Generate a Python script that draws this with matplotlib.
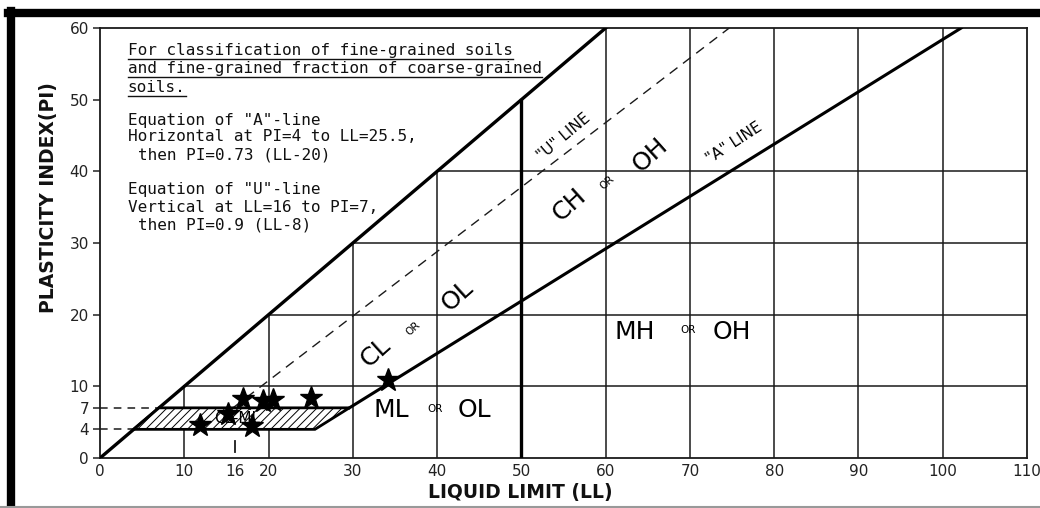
import matplotlib.pyplot as plt
import numpy as np
from matplotlib.lines import Line2D

plt.rcParams['hatch.linewidth'] = 0.7

# 數據：塑性圖上的試樣點 (LL, PI)
sample_ll = [11.9, 15.2, 18.0, 17.0, 19.3, 20.5, 25.0, 34.2]
sample_pi = [4.6, 6.2, 4.4, 8.2, 8.0, 8.1, 8.4, 10.9]

# A-line / U-line 參數
a_slope, a_ll0 = 0.73, 20
a_pi_flat, a_ll_flat_end = 4, 25.5
u_slope, u_ll0 = 0.9, 8
u_ll_vert, u_pi_vert = 16, 7
cl_ml_top = 7

x_ticks = [0, 10, 16, 20, 30, 40, 50, 60, 70, 80, 90, 100, 110]
y_ticks = [0, 4, 7, 10, 20, 30, 40, 50, 60]
grid_steps = [10, 20, 30, 40, 50, 60, 70, 80, 90, 100]

notes = [
    ("For classification of fine-grained soils", 3.3, 56.9, True),
    ("and fine-grained fraction of coarse-grained", 3.3, 54.4, True),
    ("soils.", 3.3, 51.7, True),
    ('Equation of "A"-line', 3.3, 47.1, False),
    ("Horizontal at PI=4 to LL=25.5,", 3.3, 44.8, False),
    ("then PI=0.73 (LL-20)", 4.5, 42.3, False),
    ('Equation of "U"-line', 3.3, 37.4, False),
    ("Vertical at LL=16 to PI=7,", 3.3, 35.0, False),
    ("then PI=0.9 (LL-8)", 4.5, 32.5, False),
]

fig = plt.figure(figsize=(10.4, 5.08), dpi=100)
ax = fig.add_axes([0.0962, 0.0984, 0.8913, 0.9449 - 0.0984])
ax.set_xlim(0, 110)
ax.set_ylim(0, 60)

lc = '#1a1a1a'

# 網格（只畫在 PI=LL 線右下方）
for k in grid_steps:
    if k == 50:
        continue
    ax.plot([k, k], [0, min(k, 60)], color=lc, lw=1.1, zorder=1)
    if k < 60:
        ax.plot([k, 110], [k, k], color=lc, lw=1.1, zorder=1)

# PI = LL 線
ax.plot([0, 60], [0, 60], color='black', lw=2.4, zorder=3)
# LL = 50 粗垂直線
ax.plot([50, 50], [0, 50], color='black', lw=2.4, zorder=3)

# A-line
a_start = a_ll0 + cl_ml_top / a_slope
a_end = a_ll0 + 60 / a_slope
ax.plot([a_start, a_end], [cl_ml_top, 60], color='black', lw=2.2, zorder=3)

# U-line
u_start = u_ll0 + u_pi_vert / u_slope
u_end = u_ll0 + 60 / u_slope
ax.plot([u_start, u_end], [u_pi_vert, 60], color=lc, lw=1.0, ls=(0, (7, 5)), zorder=2)
ax.plot([u_ll_vert, u_ll_vert], [0.8, 2.4], color=lc, lw=1.3, zorder=2)

# CL-ML 斜線區
a_flat_top = a_ll0 + cl_ml_top / a_slope
poly_x = [a_pi_flat, a_ll_flat_end, a_flat_top, cl_ml_top]
poly_y = [a_pi_flat, a_pi_flat, cl_ml_top, cl_ml_top]
ax.fill(poly_x, poly_y, facecolor='white', edgecolor='black', lw=2.0,
        hatch='////', zorder=4)
ax.text(16.3, 5.5, "CL-ML", fontsize=11, ha='center', va='center', zorder=5)

# 虛線 PI=4, PI=7
ax.plot([0, a_pi_flat], [a_pi_flat, a_pi_flat], color=lc, lw=1.1, ls=(0, (5, 4)), zorder=2)
ax.plot([0, cl_ml_top], [cl_ml_top, cl_ml_top], color=lc, lw=1.1, ls=(0, (5, 4)), zorder=2)

# 試樣點
ax.plot(sample_ll, sample_pi, ls='none', marker='*', markersize=17,
        color='black', zorder=6)

# 區域標籤
big = 18
ax.text(34.6, 6.7, "ML", fontsize=big, ha='center', va='center')
ax.text(39.7, 6.8, "OR", fontsize=7.5, ha='center', va='center')
ax.text(44.4, 6.7, "OL", fontsize=big, ha='center', va='center')
ax.text(63.4, 17.6, "MH", fontsize=big, ha='center', va='center')
ax.text(69.8, 17.8, "OR", fontsize=7.5, ha='center', va='center')
ax.text(75.0, 17.6, "OH", fontsize=big, ha='center', va='center')
rot = 42
ax.text(32.7, 14.8, "CL", fontsize=big, ha='center', va='center', rotation=rot, rotation_mode='anchor')
ax.text(37.1, 18.1, "OR", fontsize=7.5, ha='center', va='center', rotation=rot, rotation_mode='anchor')
ax.text(42.4, 22.7, "OL", fontsize=big, ha='center', va='center', rotation=rot, rotation_mode='anchor')
ax.text(55.7, 35.3, "CH", fontsize=big, ha='center', va='center', rotation=rot, rotation_mode='anchor')
ax.text(60.2, 38.4, "OR", fontsize=7.5, ha='center', va='center', rotation=rot, rotation_mode='anchor')
ax.text(65.3, 42.3, "OH", fontsize=big, ha='center', va='center', rotation=rot, rotation_mode='anchor')
ax.text(55.0, 44.8, '"U" LINE', fontsize=11, ha='center', va='center', rotation=40, rotation_mode='anchor')
ax.text(75.2, 43.9, '"A" LINE', fontsize=11, ha='center', va='center', rotation=33, rotation_mode='anchor')

# 說明文字
note_texts = []
for s, x, y, ul in notes:
    t = ax.text(x, y, s, fontsize=11.5, family='DejaVu Sans Mono', ha='left', va='center', color='#111111')
    note_texts.append((t, ul))

# 軸設定
ax.set_xticks(x_ticks)
ax.set_yticks(y_ticks)
ax.tick_params(axis='x', length=0, pad=4, labelsize=11, colors='#222222')
ax.tick_params(axis='y', length=5, width=1.1, pad=3, labelsize=11, colors='#222222')
for sp in ax.spines.values():
    sp.set_linewidth(1.3)
    sp.set_color(lc)

ax.set_xlabel("LIQUID LIMIT (LL)", fontsize=13.5, fontweight='bold', color='#111111')
ax.set_ylabel("PLASTICITY INDEX(PI)", fontsize=13.5, fontweight='bold', color='#111111')
ax.xaxis.set_label_coords(0.453, -0.081)
ax.yaxis.set_label_coords(-0.056, 0.605)
ax.xaxis.label.set_va('center')
ax.yaxis.label.set_va('center')

# 外框黑粗線
fig.add_artist(Line2D([0.008, 1.0], [0.975, 0.975], transform=fig.transFigure, color='black', lw=6))
fig.add_artist(Line2D([0.011, 0.011], [0.0, 0.978], transform=fig.transFigure, color='black', lw=6))
fig.add_artist(Line2D([0.0, 1.0], [0.002, 0.002], transform=fig.transFigure, color='#999999', lw=1.5))

# 底線
fig.canvas.draw()
r = fig.canvas.get_renderer()
for t, ul in note_texts:
    if not ul:
        continue
    bb = t.get_window_extent(renderer=r)
    y0 = (bb.y0 - 1) / fig.bbox.height
    fig.add_artist(Line2D([bb.x0 / fig.bbox.width, bb.x1 / fig.bbox.width], [y0, y0],
                          transform=fig.transFigure, color='#111111', lw=1.0))

fig.savefig("out.png", dpi=100)
